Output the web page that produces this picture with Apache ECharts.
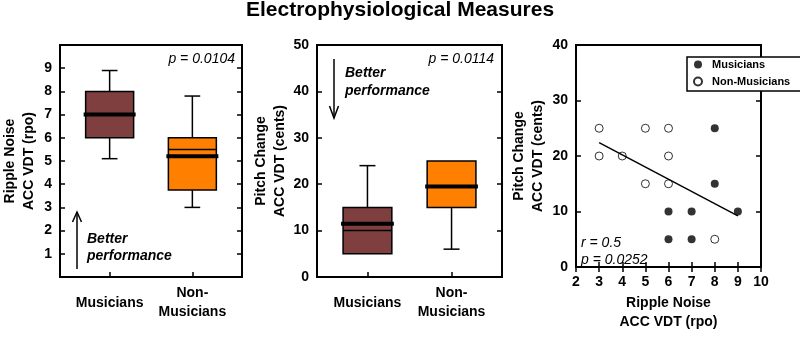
<!DOCTYPE html>
<html>
<head>
<meta charset="utf-8">
<title>Electrophysiological Measures</title>
<script src="https://cdn.jsdelivr.net/npm/echarts@6/dist/echarts.min.js"></script>
<style>
  html, body { margin: 0; padding: 0; background: #fff; }
  #chart { width: 800px; height: 337px; }
</style>
</head>
<body>
<div id="chart"></div>
<script>
// groups (x positions 1 and 2 on the box plot axes)
var groups = ['Musicians', 'Non-Musicians'];
var groupLabels = ['Musicians', 'Non-\nMusicians'];

// ripple noise ACC VDT (rpo)
var rippleLow = [5.1, 3.0];
var rippleQ1 = [6.0, 3.75];
var rippleMedian = [7.0, 5.2];
var rippleQ3 = [8.0, 6.0];
var rippleHigh = [8.9, 7.8];
var rippleMean = [7.0, 5.5];

// pitch change ACC VDT (cents)
var pitchLow = [5, 6];
var pitchQ1 = [5, 15];
var pitchMedian = [11.5, 19.5];
var pitchQ3 = [15, 25];
var pitchHigh = [24, 25];
var pitchMean = [10, 19.5];

// scatter: ripple (x) vs pitch (y)
var musX = [8, 8, 6, 7, 9, 6, 7];
var musY = [25, 15, 10, 10, 10, 5, 5];
var nonX = [3, 3, 4, 5, 5, 6, 6, 6, 8];
var nonY = [25, 20, 20, 25, 15, 25, 20, 15, 5];
var fitX = [3, 9];
var fitY = [22.4, 9.2];

var FONT = '"Liberation Sans", Arial, sans-serif';
var boxColors = ['#7f3f3f', '#ff8000'];

var chart = echarts.init(document.getElementById('chart'));

function boxData(lo, q1, med, q3, hi, mean) {
  return groups.map(function (g, i) {
    return [i + 1, lo[i], q1[i], med[i], q3[i], hi[i], mean[i]];
  });
}

function boxItem(params, api) {
  var x = api.value(0);
  var pLow = api.coord([x, api.value(1)]);
  var pQ1 = api.coord([x, api.value(2)]);
  var pMed = api.coord([x, api.value(3)]);
  var pQ3 = api.coord([x, api.value(4)]);
  var pHigh = api.coord([x, api.value(5)]);
  var pMean = api.coord([x, api.value(6)]);
  var half = api.size([0.58, 0])[0] / 2;
  var cap = api.size([0.19, 0])[0] / 2;
  var cx = pMed[0];
  var ls = { stroke: '#000', lineWidth: 1.5 };
  var kids = [];
  if (pHigh[1] < pQ3[1] - 0.5) {
    kids.push({ type: 'line', shape: { x1: cx, y1: pQ3[1], x2: cx, y2: pHigh[1] }, style: ls });
    kids.push({ type: 'line', shape: { x1: cx - cap, y1: pHigh[1], x2: cx + cap, y2: pHigh[1] }, style: ls });
  }
  if (pLow[1] > pQ1[1] + 0.5) {
    kids.push({ type: 'line', shape: { x1: cx, y1: pQ1[1], x2: cx, y2: pLow[1] }, style: ls });
    kids.push({ type: 'line', shape: { x1: cx - cap, y1: pLow[1], x2: cx + cap, y2: pLow[1] }, style: ls });
  }
  kids.push({
    type: 'rect',
    shape: { x: cx - half, y: pQ3[1], width: half * 2, height: pQ1[1] - pQ3[1] },
    style: { fill: boxColors[params.dataIndex], stroke: '#000', lineWidth: 1.5 }
  });
  kids.push({ type: 'line', shape: { x1: cx - half, y1: pMean[1], x2: cx + half, y2: pMean[1] }, style: ls });
  kids.push({ type: 'line', shape: { x1: cx - half - 2, y1: pMed[1], x2: cx + half + 2, y2: pMed[1] }, style: { stroke: '#000', lineWidth: 4 } });
  return { type: 'group', children: kids };
}

function frame(left) {
  return { left: left, top: 45, width: 185, height: 232, show: true,
    borderColor: '#000', borderWidth: 2, backgroundColor: 'transparent' };
}

var tickFont = { fontFamily: FONT, fontSize: 14, fontWeight: 'bold', color: '#000' };
var nameFont = { fontFamily: FONT, fontSize: 14, fontWeight: 'bold', color: '#000', lineHeight: 19 };

function groupAxis(gi) {
  return {
    type: 'value', gridIndex: gi, min: 0.4, max: 2.6,
    axisLine: { show: false }, splitLine: { show: false },
    axisTick: { inside: true, length: 5, customValues: [1, 2], lineStyle: { color: '#000', width: 1.5 } },
    axisLabel: Object.assign({ customValues: [1, 2], verticalAlign: 'middle', margin: 26, lineHeight: 19,
      formatter: function (v) { return groupLabels[Math.round(v) - 1]; } }, tickFont)
  };
}

function valueAxis(gi, min, max, step, pos, labels, extra) {
  var ax = {
    type: 'value', gridIndex: gi, min: min, max: max, interval: step, position: pos,
    axisLine: { show: false }, splitLine: { show: false },
    axisTick: { inside: true, length: 5, lineStyle: { color: '#000', width: 1.5 } },
    axisLabel: labels ? Object.assign({ margin: 8 }, tickFont) : { show: false }
  };
  return Object.assign(ax, extra || {});
}

chart.setOption({
  animation: false,
  title: {
    text: 'Electrophysiological Measures', left: 'center', top: 0, padding: 0,
    textStyle: { fontFamily: FONT, fontSize: 21, fontWeight: 'bold', color: '#000' }
  },
  legend: {
    orient: 'vertical', left: 687, top: 57,
    itemWidth: 18, itemHeight: 8, itemGap: 6,
    padding: [2, 20, 4, 6],
    borderColor: '#000', borderWidth: 1.5, backgroundColor: '#fff',
    textStyle: { fontFamily: FONT, fontSize: 11, fontWeight: 'bold', color: '#000' },
    data: ['Musicians', 'Non-Musicians']
  },
  grid: [frame(57), frame(317), frame(576)],
  xAxis: [
    groupAxis(0),
    groupAxis(1),
    valueAxis(2, 2, 10, 1, 'bottom', true, {
      name: 'Ripple Noise\nACC VDT (rpo)', nameLocation: 'middle', nameGap: 27, nameTextStyle: nameFont,
      axisLabel: Object.assign({ margin: 8 }, tickFont)
    }),
    valueAxis(2, 2, 10, 1, 'top', false)
  ],
  yAxis: [
    valueAxis(0, 0, 10, 1, 'left', true, {
      name: 'Ripple Noise\nACC VDT (rpo)', nameLocation: 'middle', nameRotate: 90, nameGap: 21, nameTextStyle: nameFont,
      axisLabel: Object.assign({ margin: 8, formatter: function (v) { return (v === 0 || v === 10) ? '' : v; } }, tickFont)
    }),
    valueAxis(1, 0, 50, 10, 'left', true, {
      name: 'Pitch Change\nACC VDT (cents)', nameLocation: 'middle', nameRotate: 90, nameGap: 26, nameTextStyle: nameFont
    }),
    valueAxis(2, 0, 40, 10, 'left', true, {
      name: 'Pitch Change\nACC VDT (cents)', nameLocation: 'middle', nameRotate: 90, nameGap: 28, nameTextStyle: nameFont
    }),
    valueAxis(0, 0, 10, 1, 'right', false),
    valueAxis(1, 0, 50, 10, 'right', false),
    valueAxis(2, 0, 40, 10, 'right', false)
  ],
  graphic: [
    { type: 'text', right: 800 - 235, top: 52, style: { text: 'p = 0.0104', font: 'italic 14px ' + FONT, fill: '#000' } },
    { type: 'text', right: 800 - 494, top: 52, style: { text: 'p = 0.0114', font: 'italic 14px ' + FONT, fill: '#000' } },
    { type: 'text', left: 581, top: 235, style: { text: 'r = 0.5\np = 0.0252', font: 'italic 14px ' + FONT, fill: '#000', lineHeight: 17 } },
    { type: 'text', left: 87, top: 231, style: { text: 'Better\nperformance', font: 'italic bold 14px ' + FONT, fill: '#000', lineHeight: 17 } },
    { type: 'text', left: 345, top: 64, style: { text: 'Better\nperformance', font: 'italic bold 14px ' + FONT, fill: '#000', lineHeight: 18 } },
    { type: 'line', shape: { x1: 77, y1: 269, x2: 77, y2: 212 }, style: { stroke: '#000', lineWidth: 1.5 } },
    { type: 'polyline', shape: { points: [[72.5, 222], [77, 212], [81.5, 222]] }, style: { stroke: '#000', lineWidth: 1.5, fill: null } },
    { type: 'line', shape: { x1: 334, y1: 59, x2: 334, y2: 118 }, style: { stroke: '#000', lineWidth: 1.5 } },
    { type: 'polyline', shape: { points: [[329.5, 106], [334, 118], [338.5, 106]] }, style: { stroke: '#000', lineWidth: 1.5, fill: null } }
  ],
  series: [
    {
      type: 'custom', name: 'ripple', xAxisIndex: 0, yAxisIndex: 0,
      renderItem: boxItem, encode: { x: 0, y: [1, 2, 3, 4, 5] },
      data: boxData(rippleLow, rippleQ1, rippleMedian, rippleQ3, rippleHigh, rippleMean)
    },
    {
      type: 'custom', name: 'pitch', xAxisIndex: 1, yAxisIndex: 1,
      renderItem: boxItem, encode: { x: 0, y: [1, 2, 3, 4, 5] },
      data: boxData(pitchLow, pitchQ1, pitchMedian, pitchQ3, pitchHigh, pitchMean)
    },
    {
      type: 'line', name: 'fit', xAxisIndex: 2, yAxisIndex: 2, symbol: 'none',
      lineStyle: { color: '#000', width: 1.5 },
      data: fitX.map(function (x, i) { return [x, fitY[i]]; })
    },
    {
      type: 'scatter', name: 'Musicians', xAxisIndex: 2, yAxisIndex: 2,
      symbol: 'circle', symbolSize: 8, itemStyle: { color: '#000' },
      data: musX.map(function (x, i) { return [x, musY[i]]; })
    },
    {
      type: 'scatter', name: 'Non-Musicians', xAxisIndex: 2, yAxisIndex: 2,
      symbol: 'circle', symbolSize: 8, itemStyle: { color: '#fff', borderColor: '#000', borderWidth: 1 },
      data: nonX.map(function (x, i) { return [x, nonY[i]]; })
    }
  ]
});
</script>
</body>
</html>
